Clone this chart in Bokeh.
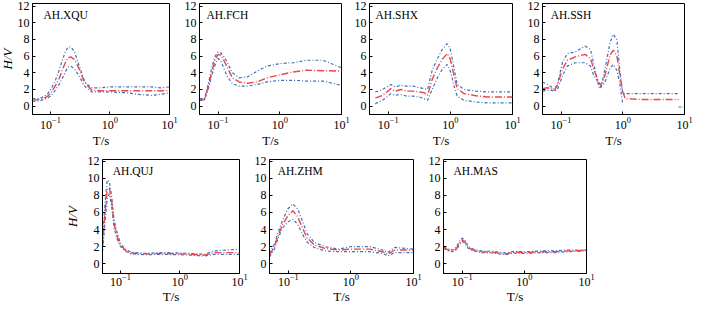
import math
from bokeh.plotting import figure
from bokeh.layouts import column, row
from bokeh.models import FixedTicker, Label, Spacer
from bokeh.embed import file_html
from bokeh.resources import INLINE

NaN = float("nan")
FONT = "Liberation Serif"

# ---------------- data ----------------
xqu_T = [0.05, 0.06, 0.07, 0.08, 0.09, 0.10, 0.12, 0.14, 0.16, 0.18, 0.20, 0.22, 0.25, 0.28, 0.32, 0.36, 0.40, 0.50, 0.70, 1.0, 2.0, 3.0, 5.0, 7.0, 10.0]
xqu_mean = [0.75, 0.75, 0.85, 1.0, 1.2, 1.5, 2.4, 3.3, 4.4, 5.3, 5.8, 5.9, 5.6, 5.0, 4.1, 3.1, 2.6, 1.9, 1.85, 1.85, 1.85, 1.85, 1.85, 1.85, 1.85]
xqu_hi = [0.9, 0.9, 1.0, 1.2, 1.5, 1.9, 3.0, 4.3, 5.6, 6.6, 7.1, 7.1, 6.6, 5.6, 4.4, 3.3, 2.7, 2.2, 2.2, 2.3, 2.3, 2.3, 2.3, 2.2, 2.3]
xqu_lo = [0.6, 0.6, 0.7, 0.85, 1.0, 1.2, 1.9, 2.6, 3.4, 4.2, 4.7, 4.8, 4.5, 4.0, 3.3, 2.6, 2.2, 1.7, 1.7, 1.7, 1.6, 1.4, 1.3, 1.4, 1.6]

fch_T = [0.05, 0.06, 0.065, 0.07, 0.075, 0.08, 0.09, 0.10, 0.11, 0.12, 0.14, 0.17, 0.22, 0.30, 0.43, 0.62, 1.0, 1.66, 2.7, 5.0, 10.0]
fch_mean = [0.8, 0.8, 1.6, 2.5, 3.4, 4.3, 5.6, 6.2, 6.1, 5.7, 4.7, 3.4, 2.9, 2.75, 2.9, 3.4, 3.75, 4.1, 4.3, 4.25, 4.2]
fch_hi = [0.9, 0.9, 1.8, 2.8, 3.8, 4.8, 6.0, 6.5, 6.4, 6.1, 5.3, 4.0, 3.4, 3.5, 4.2, 4.8, 5.1, 5.2, 5.5, 5.5, 4.6]
fch_lo = [0.7, 0.7, 1.4, 2.2, 3.0, 3.8, 5.0, 5.7, 5.5, 4.8, 3.6, 2.7, 2.4, 2.4, 2.6, 2.9, 3.1, 3.1, 3.0, 3.0, 2.5]

shx_T = [0.062, 0.07, 0.081, 0.095, 0.11, 0.13, 0.16, 0.20, 0.25, 0.32, 0.38, 0.43, 0.51, 0.62, 0.74, 0.89, 1.0, 1.15, 1.29, 1.66, 2.57, 4.0, 10.0]
shx_mean = [1.0, 1.1, 1.3, 1.7, 2.1, 1.8, 2.0, 1.8, 1.8, 1.7, 1.6, 1.3, 3.2, 4.6, 5.6, 6.3, 5.6, 3.6, 2.1, 1.5, 1.25, 1.1, 1.1]
shx_hi = [1.7, 1.8, 2.0, 2.3, 2.6, 2.3, 2.5, 2.4, 2.4, 2.2, 2.1, 2.0, 4.3, 5.7, 6.8, 7.5, 6.8, 4.5, 2.6, 2.0, 1.8, 1.7, 1.7]
shx_lo = [0.3, 0.5, 0.7, 1.1, 1.5, 1.3, 1.4, 1.2, 1.2, 1.1, 0.9, 0.7, 2.0, 3.4, 4.4, 5.0, 4.2, 2.4, 1.2, 0.7, 0.5, 0.4, 0.4]

ssh_T = [0.05, 0.06, 0.07, 0.078, 0.087, 0.105, 0.126, 0.17, 0.245, 0.30, 0.34, 0.41, 0.44, 0.51, 0.62, 0.70, 0.80, 0.90, 1.0, 1.1, 2.0, 4.0, 8.0, 10.0]
ssh_mean = [2.1, 2.2, 2.1, 1.9, 2.5, 4.4, 5.5, 5.9, 6.2, 5.7, 4.4, 2.8, 2.5, 3.6, 6.1, 6.7, 6.1, 3.6, 1.7, 0.9, 0.8, 0.8, 0.8, NaN]
ssh_hi = [2.9, 2.6, 2.3, 2.0, 2.6, 5.2, 6.3, 6.5, 7.2, 6.8, 5.0, 2.3, 2.1, 4.3, 7.6, 8.6, 8.0, 4.2, 1.5, 1.5, 1.5, 1.5, 1.5, NaN]
ssh_lo = [1.8, 1.9, 1.9, 1.8, 2.0, 3.6, 4.8, 5.2, 5.2, 4.8, 3.6, 2.8, 2.3, 2.8, 4.5, 5.0, 4.3, 2.6, 0.2, NaN, NaN, NaN, -0.1, -0.1]

quj_T = [0.05, 0.055, 0.06, 0.065, 0.071, 0.078, 0.089, 0.10, 0.12, 0.15, 0.25, 0.5, 1.0, 1.5, 2.6, 3.8, 6.0, 10.0]
quj_mean = [2.0, 5.9, 8.7, 8.9, 7.5, 4.7, 3.1, 2.2, 1.6, 1.25, 1.15, 1.2, 1.15, 1.1, 1.0, 1.3, 1.3, 1.3]
quj_hi = [2.8, 7.0, 9.8, 9.6, 8.0, 5.2, 3.5, 2.4, 1.7, 1.35, 1.2, 1.3, 1.25, 1.2, 1.1, 1.5, 1.6, 1.7]
quj_lo = [1.4, 4.8, 7.6, 8.2, 6.8, 4.2, 2.8, 2.0, 1.5, 1.15, 1.05, 1.1, 1.05, 1.0, 0.9, 1.1, 1.1, 1.1]

zhm_T = [0.05, 0.06, 0.068, 0.081, 0.098, 0.118, 0.141, 0.17, 0.20, 0.26, 0.38, 0.63, 1.0, 2.0, 3.2, 3.9, 5.0, 10.0]
zhm_mean = [1.0, 2.0, 3.2, 4.6, 5.6, 6.2, 5.5, 4.1, 3.0, 2.2, 1.8, 1.6, 1.7, 1.7, 1.4, 1.1, 1.6, 1.6]
zhm_hi = [1.2, 2.3, 3.6, 5.1, 6.4, 7.0, 6.4, 4.9, 3.5, 2.5, 2.0, 1.7, 2.0, 2.0, 1.6, 1.3, 1.9, 1.7]
zhm_lo = [0.8, 1.7, 2.9, 4.2, 4.9, 5.2, 4.6, 3.4, 2.5, 1.9, 1.5, 1.4, 1.4, 1.4, 1.2, 0.9, 1.3, 1.3]

mas_T = [0.05, 0.06, 0.07, 0.08, 0.09, 0.10, 0.11, 0.125, 0.15, 0.2, 0.3, 0.5, 0.68, 1.0, 1.5, 2.0, 3.0, 5.0, 10.0]
mas_mean = [1.9, 1.6, 1.5, 1.7, 2.4, 2.8, 2.6, 1.9, 1.6, 1.4, 1.35, 1.15, 1.35, 1.3, 1.35, 1.4, 1.4, 1.5, 1.55]
mas_hi = [2.0, 1.7, 1.6, 1.9, 2.6, 3.0, 2.8, 2.0, 1.7, 1.5, 1.45, 1.25, 1.45, 1.4, 1.45, 1.5, 1.5, 1.6, 1.6]
mas_lo = [1.8, 1.5, 1.4, 1.6, 2.2, 2.6, 2.4, 1.8, 1.5, 1.3, 1.25, 1.05, 1.25, 1.2, 1.25, 1.3, 1.3, 1.4, 1.5]

x_ticks = [0.1, 1, 10]
y_ticks = [0, 2, 4, 6, 8, 10, 12]

RED = "#e8474c"
BLUE = "#3f70b8"


def panel(name, T, mean, hi, lo, width, height, bl, br, bt, bb, yr,
          label_T, x_std, xl_std, ylab_std=None):
    p = figure(width=width, height=height, x_axis_type="log",
               x_range=(0.05, 10), y_range=yr,
               output_backend="svg", toolbar_location=None, title=None,
               min_border_left=bl, min_border_right=br,
               min_border_top=bt, min_border_bottom=bb)
    p.grid.visible = False
    p.outline_line_color = "black"
    p.outline_line_width = 1
    p.outline_line_alpha = 1
    p.xaxis.ticker = FixedTicker(ticks=x_ticks, minor_ticks=[])
    p.yaxis.ticker = FixedTicker(ticks=y_ticks, minor_ticks=[])
    for ax in (p.xaxis[0], p.yaxis[0]):
        ax.major_tick_in = 3
        ax.major_tick_out = 0
        ax.minor_tick_in = 0
        ax.minor_tick_out = 0
        ax.axis_line_color = "black"
        ax.major_tick_line_color = "black"
        ax.major_label_text_font = FONT
        ax.major_label_text_font_size = "12px"
        ax.major_label_text_color = "black"
        ax.axis_label_text_font = FONT
        ax.axis_label_text_font_size = "13px"
        ax.axis_label_text_color = "black"
    p.xaxis.major_label_standoff = x_std
    p.xaxis.axis_label = "T/s"
    p.xaxis.axis_label_text_font_style = "normal"
    p.xaxis.axis_label_standoff = xl_std
    p.yaxis.major_label_standoff = 3
    if ylab_std is not None:
        p.yaxis.axis_label = "H/V"
        p.yaxis.axis_label_text_font_style = "italic"
        p.yaxis.axis_label_standoff = ylab_std

    p.line(T, hi, line_color=BLUE, line_width=1.2, line_dash="3 2 1 2")
    p.line(T, lo, line_color=BLUE, line_width=1.2, line_dash="3 2 1 2")
    p.line(T, mean, line_color=RED, line_width=1.4, line_dash="7 2 1 2")

    p.add_layout(Label(x=label_T, y=10.9, text=name, text_font=FONT,
                       text_font_size="11.5px", text_baseline="middle",
                       text_color="black"))
    return p


R1 = (-1.0, 12.3)
R2 = (-1.15, 12.2)

H1, H2 = 158, 159
f1 = panel("AH.XQU", xqu_T, xqu_mean, xqu_hi, xqu_lo, 185, H1, 29, 12, 7, 40, R1, 0.0766, 2, 1, 0)
f2 = panel("AH.FCH", fch_T, fch_mean, fch_hi, fch_lo, 170, H1, 17, 10, 7, 40, R1, 0.0648, 2, 1)
f3 = panel("AH.SHX", shx_T, shx_mean, shx_hi, shx_lo, 173, H1, 17, 12, 7, 40, R1, 0.0625, 2, 1)
f4 = panel("AH.SSH", ssh_T, ssh_mean, ssh_hi, ssh_lo, 176, H1, 17, 16, 7, 40, R1, 0.068, 2, 1)

f5 = panel("AH.QUJ", quj_T, quj_mean, quj_hi, quj_lo, 190, H2, 35, 12, 5, 40, R2, 0.0744, 0, 0, 5)
f6 = panel("AH.ZHM", zhm_T, zhm_mean, zhm_hi, zhm_lo, 174, H2, 17, 12, 5, 40, R2, 0.0675, 0, 0)
f7 = panel("AH.MAS", mas_T, mas_mean, mas_hi, mas_lo, 173, H2, 17, 12, 5, 40, R2, 0.0725, 0, 0)

row1 = row(f1, f2, f3, f4)
row2 = row(Spacer(width=65, height=H2), f5, f6, f7)
p = column(row1, row2)
p.margin = (-4, 0, 0, -4)

open("out.html", "w").write(file_html(p, INLINE))
